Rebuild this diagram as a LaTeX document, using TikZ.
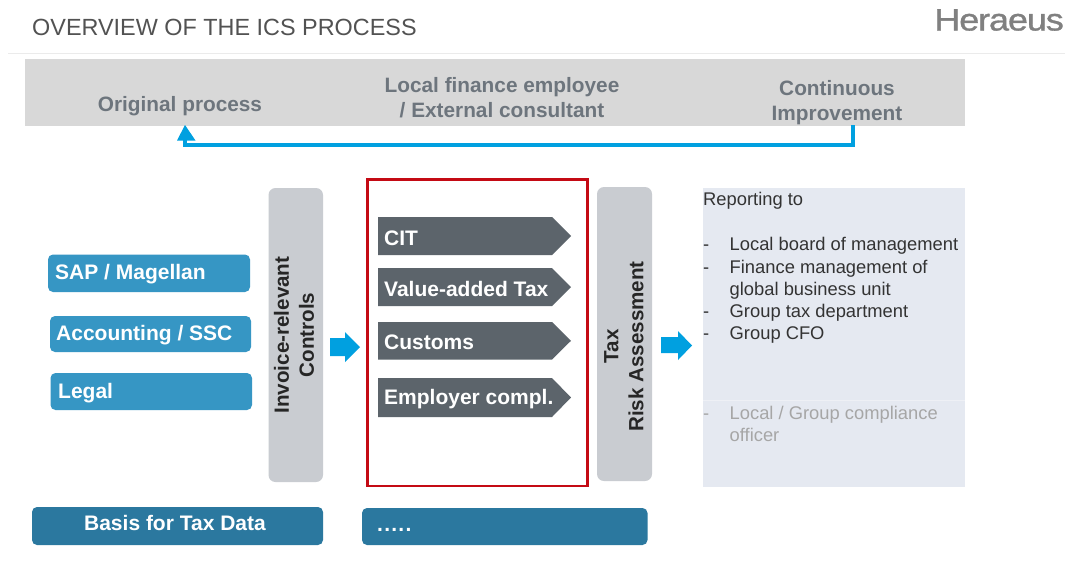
\documentclass[tikz,border=0pt]{standalone}
\usepackage{fontspec}
\setmainfont{Liberation Sans}
\definecolor{band}{HTML}{D8D8D8}
\definecolor{bandtext}{HTML}{6D757D}
\definecolor{arrowblue}{HTML}{00A0E0}
\definecolor{midblue}{HTML}{3696C4}
\definecolor{deepblue}{HTML}{2B789F}
\definecolor{sidegrey}{HTML}{C9CCD1}
\definecolor{pentgrey}{HTML}{5C646B}
\definecolor{panel}{HTML}{E5E9F1}
\definecolor{redframe}{HTML}{C40A14}
\tikzset{
  x=1pt,y=-1pt,
  head/.style={font=\fontsize{20.8}{25}\selectfont\bfseries,text=bandtext,align=center,inner sep=0pt},
  bluetext/.style={font=\fontsize{21}{25}\selectfont\bfseries,text=white,anchor=west,inner sep=0pt},
  side/.style={fill=sidegrey,rounded corners=7pt},
  sidetext/.style={font=\fontsize{20.6}{25}\selectfont\bfseries,text=black!85,rotate=90,align=center,inner sep=0pt},
  repl/.style={font=\fontsize{18.35}{22}\selectfont,text=black!80,anchor=base west,inner sep=0pt},
  faint/.style={font=\fontsize{18.35}{22}\selectfont,text=black!35,anchor=base west,inner sep=0pt},
}
\begin{document}
\begin{tikzpicture}
\useasboundingbox (0,0) rectangle (1065,582);
\fill[white] (0,0) rectangle (1065,582);
% title
\draw[black!8,line width=1pt] (8,53.5) -- (1065,53.5);
\node[anchor=base west,inner sep=0pt,text=black!68,font=\fontsize{23.4}{28}\selectfont] (title) at (32,35) {OVERVIEW OF THE ICS PROCESS};
\node[anchor=base east,inner sep=0pt,text=black!50,xscale=1.16,transform shape,font=\fontsize{31}{36}\selectfont\addfontfeatures{LetterSpace=-3,FakeBold=1}] (logo) at (1064,30.5) {Heraeus};
% band
\fill[band] (25,59) rectangle (965,126);
\node[head] (orig) at (180,106) {Original process};
\node[head] (local) at (502,98) {Local finance employee\\/ External consultant};
\node[head] (cont) at (837,102.5) {Continuous\\Improvement};
\coordinate (fbstart) at (853,125);
\coordinate (fbend) at (185,125);
\draw[arrowblue,line width=4.5pt] (fbstart) -- (fbstart |- 0,145) -- (fbend |- 0,145) -- (185,135);
\fill[arrowblue] (fbend) -- (195.5,140.5) -- (177,140.5) -- cycle;
% blue boxes
\fill[midblue,rounded corners=5pt] (48,254.5) rectangle (250,292);
\node[bluetext] (sap) at (55,274.5) {SAP / Magellan};
\fill[midblue,rounded corners=5pt] (50,316) rectangle (251,352);
\node[bluetext] (acc) at (56,335) {Accounting / SSC};
\fill[midblue,rounded corners=5pt] (50.5,373) rectangle (252,410);
\node[bluetext] (legal) at (58,393) {Legal};
% side boxes
\fill[side] (268.5,188) rectangle (323,482);
\node[sidetext] (inv) at (294,335) {Invoice-relevant\\Controls};
\fill[side] (597,187) rectangle (652,481);
\node[sidetext] (tax) at (624,346.5) {Tax\\Risk Assessment};
% block arrows
\fill[arrowblue] (330,338) -- (345,338) -- (345,332) -- (360,347) -- (345,362) -- (345,356) -- (330,356) -- cycle;
\fill[arrowblue] (661,337) -- (678,337) -- (678,331) -- (692,345.5) -- (678,360) -- (678,353) -- (661,353) -- cycle;
% red frame
\draw[redframe,line width=2.6pt] (367.5,179.5) rectangle (587.5,486);
% pentagons
\foreach \t/\b in {217/255,268/306,322/359.5,378/417}{
  \fill[pentgrey] (378,\t) -- (552,\t) -- (571,{(\t+\b)/2}) -- (552,\b) -- (378,\b) -- cycle;
}
\node[bluetext] (cit) at (384,238) {CIT};
\node[bluetext] (vat) at (384,289) {Value-added Tax};
\node[bluetext] (cus) at (384,342) {Customs};
\node[bluetext] (emp) at (384,399) {Employer compl.};
% bottom bars
\fill[deepblue,rounded corners=5pt] (32,507) rectangle (323,545);
\node[bluetext,anchor=center] (basis) at (175,523) {Basis for Tax Data};
\fill[deepblue,rounded corners=5pt] (362,508) rectangle (647.5,545);
\node[bluetext,anchor=base west,font=\fontsize{21}{25}\selectfont\bfseries\addfontfeatures{LetterSpace=6}] (dots) at (377,531) {.....};
% report panel
\fill[panel] (703,188) rectangle (965,487);
\draw[white,opacity=.35,line width=1pt] (703,400.5) -- (965,400.5);
\node[repl] (rep) at (703,205) {Reporting to};
\node[repl] (d1) at (703,250) {-};
\node[repl] (r1) at (729.5,250) {Local board of management};
\node[repl] (d2) at (703,273) {-};
\node[repl] (r2) at (729.5,273) {Finance management of};
\node[repl] (r2b) at (729.5,295) {global business unit};
\node[repl] (d3) at (703,317) {-};
\node[repl] (r3) at (729.5,317) {Group tax department};
\node[repl] (d4) at (703,339) {-};
\node[repl] (r4) at (729.5,339) {Group CFO};
\node[faint] (d5) at (703,419) {-};
\node[faint] (r5) at (729.5,419) {Local / Group compliance};
\node[faint] (r5b) at (729.5,441) {officer};
\end{tikzpicture}
\end{document}
